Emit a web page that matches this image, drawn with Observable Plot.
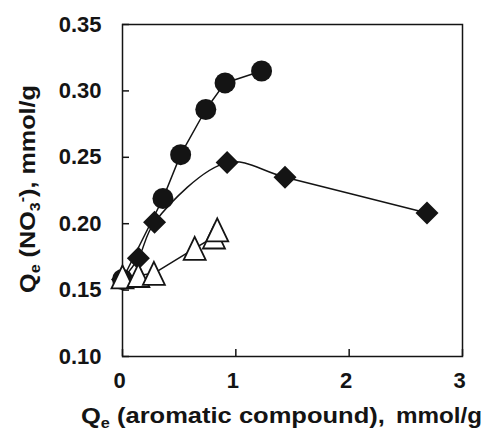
<!DOCTYPE html>
<html><head><meta charset="utf-8">
<script src="https://cdn.jsdelivr.net/npm/d3@7"></script>
<script src="https://cdn.jsdelivr.net/npm/@observablehq/plot@0.6"></script>
<style>body{margin:0;background:#fff} svg{display:block}</style>
</head><body><div id="chart"></div>
<script>
// Data
const circleX   = [0.0, 0.357, 0.513, 0.735, 0.905, 1.227];
const circleY   = [0.158, 0.219, 0.252, 0.286, 0.306, 0.315];
const diamondX  = [0.0, 0.14, 0.283, 0.923, 1.434, 2.687];
const diamondY  = [0.158, 0.174, 0.201, 0.246, 0.235, 0.208];
const triangleX = [0.0, 0.14, 0.277, 0.637, 0.807, 0.836];
const triangleY = [0.160, 0.161, 0.1626, 0.1814, 0.190, 0.1953];
const xTicks = [0, 1, 2, 3];
const yTicks = [0.10, 0.15, 0.20, 0.25, 0.30, 0.35];

const circles   = circleX.map((x, i) => ({x, y: circleY[i]}));
const diamonds  = diamondX.map((x, i) => ({x, y: diamondY[i]}));
const triangles = triangleX.map((x, i) => ({x, y: triangleY[i]}));

const W = 487, H = 429, mL = 122, mR = 25, mT = 24, mB = 73;
const plotW = W - mL - mR, plotH = H - mT - mB;
const ink = "#141414";
const FONT = "'Liberation Sans', Arial, Helvetica, sans-serif";

const triSym = {draw(ctx) { ctx.moveTo(0, -11.5); ctx.lineTo(11, 11.5); ctx.lineTo(-11, 11.5); ctx.closePath(); }};
const diaSym = {draw(ctx) { ctx.moveTo(0, -11.5); ctx.lineTo(11.5, 0); ctx.lineTo(0, 11.5); ctx.lineTo(-11.5, 0); ctx.closePath(); }};

const plot = Plot.plot({
  width: W, height: H,
  marginLeft: mL, marginRight: mR, marginTop: mT, marginBottom: mB,
  x: {domain: [0, 3]},
  y: {domain: [0.10, 0.35]},
  style: {fontFamily: FONT, fontWeight: "bold", fontSize: "22px", color: ink, background: "#fff"},
  marks: [
    Plot.axisX(xTicks, {tickSize: 0, tickPadding: 16, dx: -3, label: null, tickFormat: d3.format("d"), fontSize: 22, fontWeight: "bold"}),
    Plot.axisY(yTicks, {tickSize: 0, tickPadding: 21, tickFormat: d3.format(".2f"), label: null, fontSize: 22, fontWeight: "bold"}),
    Plot.tickX(xTicks, {x: d => d, insetTop: plotH - 7, stroke: ink, strokeWidth: 1.5}),
    Plot.tickY(yTicks, {y: d => d, insetRight: plotW - 7, stroke: ink, strokeWidth: 1.5}),
    Plot.frame({stroke: ink, strokeWidth: 1.5}),
    Plot.line(diamonds, {x: "x", y: "y", curve: "catmull-rom", stroke: ink, strokeWidth: 1.5}),
    Plot.line(circles, {x: "x", y: "y", stroke: ink, strokeWidth: 1.5}),
    Plot.line(triangles, {x: "x", y: "y", stroke: ink, strokeWidth: 1.5}),
    Plot.dot(diamonds, {x: "x", y: "y", symbol: diaSym, fill: ink, stroke: "none"}),
    Plot.dot(circles, {x: "x", y: "y", r: 10.5, fill: ink, stroke: "none"}),
    Plot.dot(triangles, {x: "x", y: "y", symbol: triSym, fill: "white", stroke: ink, strokeWidth: 1.8})
  ]
});
document.getElementById("chart").append(plot);

const svg = d3.select(plot);
// x axis title, in two pieces (widened lettering like the reference)
const xt = svg.append("text")
  .attr("transform", "translate(81,423) scale(1.16,1)")
  .attr("text-anchor", "start")
  .attr("font-family", FONT).attr("font-weight", "bold").attr("font-size", 22)
  .attr("fill", ink).style("white-space", "pre");
xt.append("tspan").text("Q");
xt.append("tspan").attr("font-size", 14).attr("dy", 5).text("e");
xt.append("tspan").attr("dy", -5).text(" (aromatic compound),");
svg.append("text")
  .attr("transform", "translate(482,423) scale(1.1,1)")
  .attr("text-anchor", "end")
  .attr("font-family", FONT).attr("font-weight", "bold").attr("font-size", 22)
  .attr("fill", ink)
  .text("mmol/g");

// y axis title
const yt = svg.append("text")
  .attr("transform", "translate(35,189) rotate(-90)")
  .attr("text-anchor", "middle")
  .attr("font-family", FONT).attr("font-weight", "bold").attr("font-size", 22)
  .attr("fill", ink).style("white-space", "pre")
  .attr("textLength", 208).attr("lengthAdjust", "spacingAndGlyphs");
yt.append("tspan").text("Q");
yt.append("tspan").attr("font-size", 14).attr("dy", 5).text("e");
yt.append("tspan").attr("dy", -5).text(" (NO");
yt.append("tspan").attr("font-size", 14).attr("dy", 5).text("3");
yt.append("tspan").attr("font-size", 14).attr("dy", -13).text("-");
yt.append("tspan").attr("dy", 8).text("), mmol/g");
</script>
</body></html>
